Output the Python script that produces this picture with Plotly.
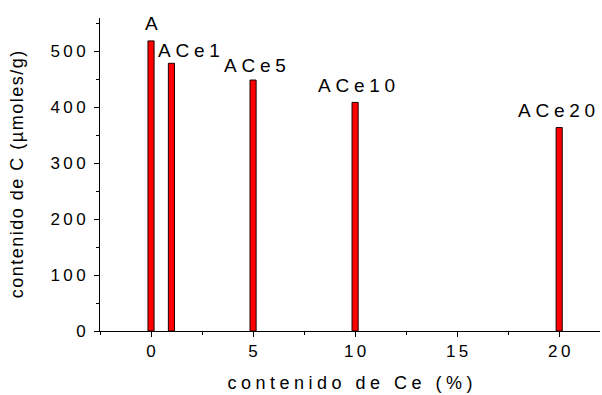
import plotly.graph_objects as go

# ---- data ----
ce_content = [0, 1, 5, 10, 20]
c_content = [519, 479, 449, 409, 364]
sample_labels = ["A", "ACe1", "ACe5", "ACe10", "ACe20"]

y_tick_vals = [0, 100, 200, 300, 400, 500]
y_tick_labels = ["0", "100", "200", "300", "400", "500"]
x_tick_vals = [0, 5, 10, 15, 20]
x_tick_labels = ["0", "5", "10", "15", "20"]

x_title = "contenido de Ce (%)"
y_title = "contenido de C (\u00b5moles/g)"

FONT = "Liberation Sans, Arial, sans-serif"
THIN = "\u2009"
FOUR = "\u2005"
HAIR = "\u200a"


def spaced(s, sep):
    return sep.join(list(s))


fig = go.Figure()
fig.add_trace(go.Bar(
    x=ce_content, y=c_content, width=0.3,
    marker=dict(color="#ff0000", line=dict(color="#1a0000", width=1)),
    showlegend=False,
))

# label offsets (pixels) relative to bar top
label_xshift = [0, 18, 2, 1, -3]
label_yshift = [5, 0, 2, 4, 5]
for xv, yv, lab, dx, dy in zip(ce_content, c_content, sample_labels, label_xshift, label_yshift):
    fig.add_annotation(
        x=xv, y=yv, text=spaced(lab, FOUR), showarrow=False,
        xanchor="center", yanchor="bottom", xshift=dx, yshift=dy,
        font=dict(family=FONT, size=19, color="#000000"),
    )

axis_common = dict(
    showline=True, linecolor="#000000", linewidth=1,
    ticks="outside", ticklen=5, tickwidth=1, tickcolor="#000000",
    showgrid=False, zeroline=False, mirror=False,
    tickfont=dict(family=FONT, size=17, color="#000000"),
)

fig.update_layout(
    width=602, height=395,
    margin=dict(l=100, r=2, t=18, b=64),
    paper_bgcolor="#ffffff", plot_bgcolor="#ffffff",
    xaxis=dict(
        range=[-2.5, 22.0],
        tickmode="array", tickvals=x_tick_vals,
        ticktext=[spaced(t, THIN) for t in x_tick_labels],
        minor=dict(ticks="outside", ticklen=3, tickwidth=1, tickcolor="#000000", dtick=5, tick0=2.5),
        title=dict(text=spaced(x_title, FOUR), font=dict(family=FONT, size=18, color="#000000"), standoff=15),
        **axis_common,
    ),
    yaxis=dict(
        range=[0, 560],
        tickmode="array", tickvals=y_tick_vals,
        ticktext=[spaced(t, THIN) for t in y_tick_labels],
        minor=dict(ticks="outside", ticklen=3, tickwidth=1, tickcolor="#000000", dtick=100, tick0=50),
        title=dict(text=spaced(y_title, HAIR), font=dict(family=FONT, size=18, color="#000000"), standoff=22),
        ticklabelstandoff=5,
        **axis_common,
    ),
)

fig.write_html("out.html")
